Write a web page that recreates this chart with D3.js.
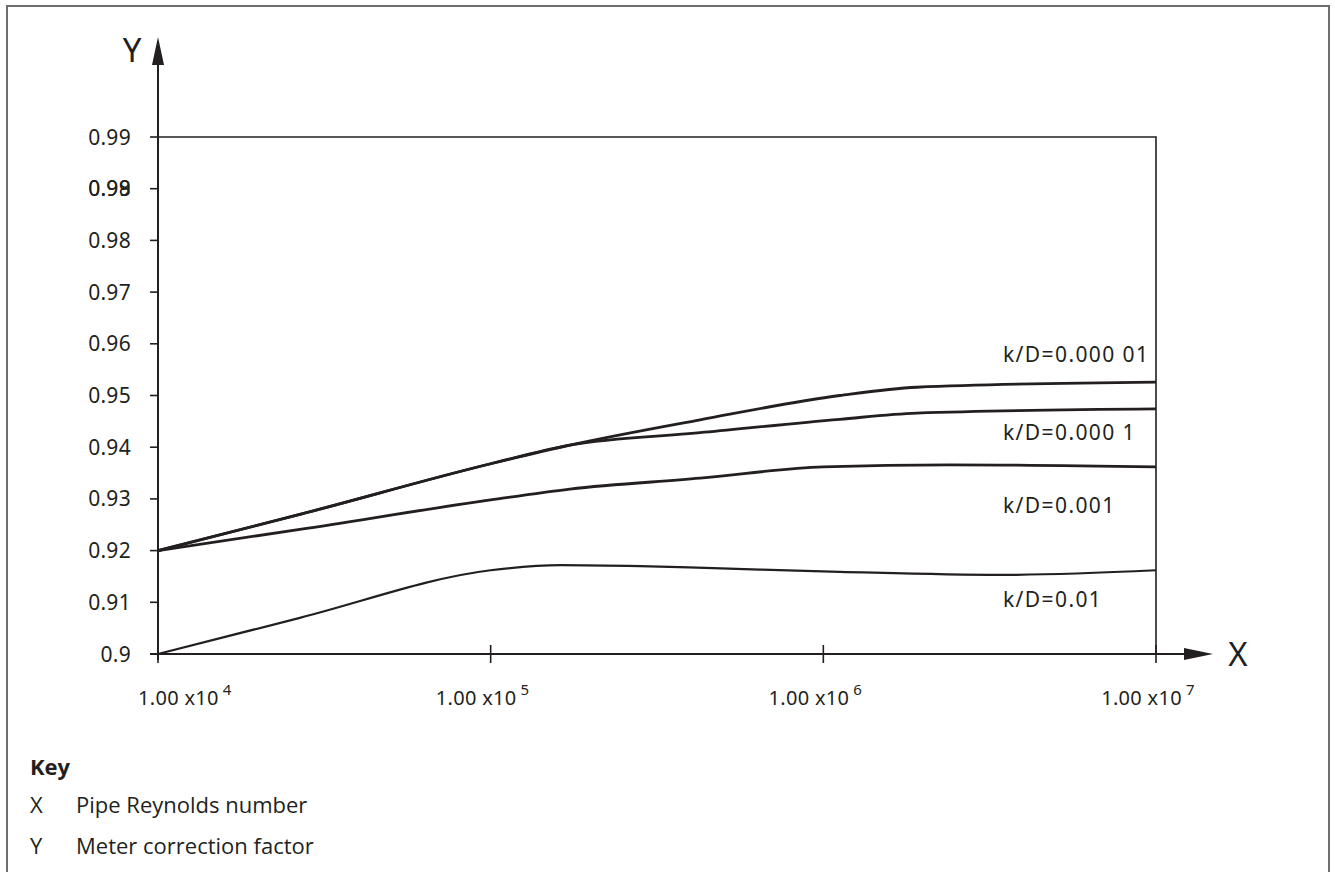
<!DOCTYPE html>
<html>
<head>
<meta charset="utf-8">
<title>Meter correction factor</title>
<script src="https://d3js.org/d3.v7.min.js"></script>
<style>
  body { margin: 0; background: #fff; }
  .axis-text { font-family: "Noto Sans", "DejaVu Sans", sans-serif; fill: #231f20; }
  .key-text { font-family: "Open Sans", "Noto Sans", sans-serif; fill: #231f20; }
</style>
</head>
<body>
<svg id="chart" width="1335" height="872"></svg>
<script>
// ---------------- data ----------------
var xTicks = [1e4, 1e5, 1e6, 1e7];
var xTickExp = ["4", "5", "6", "7"];
var yTicks = [0.90, 0.91, 0.92, 0.93, 0.94, 0.95, 0.96, 0.97, 0.98, 0.99, 1.00];
// labels as printed on the original (one tick carries two overprinted labels)
var yTickLabels = [["0.9"], ["0.91"], ["0.92"], ["0.93"], ["0.94"], ["0.95"], ["0.96"], ["0.97"], ["0.98"], ["0.98", "0.99"], ["0.99"]];

var seriesNames = ["k/D=0.000 01", "k/D=0.000 1", "k/D=0.001", "k/D=0.01"];
var re00001 = [1e4, 2.67e4, 1e5, 1.73e5, 4.26e5, 1.12e6, 1.91e6, 1e7];
var cf00001 = [0.920, 0.927, 0.9368, 0.9404, 0.9453, 0.9500, 0.9516, 0.9526];
var re0001 = [1e4, 2.67e4, 1e5, 1.73e5, 4.26e5, 1.12e6, 1.91e6, 1e7];
var cf0001 = [0.920, 0.927, 0.9368, 0.9404, 0.9428, 0.9454, 0.9466, 0.9474];
var re001 = [1e4, 2.67e4, 1e5, 1.73e5, 4.26e5, 1e6, 2.4e6, 1e7];
var cf001 = [0.920, 0.9241, 0.9298, 0.9319, 0.9340, 0.9362, 0.9366, 0.9362];
var re01 = [1e4, 2.67e4, 1e5, 1.62e5, 2.81e5, 4.66e5, 1.12e6, 3.4e6, 1e7];
var cf01 = [0.900, 0.9070, 0.9162, 0.9172, 0.9170, 0.9166, 0.9159, 0.9153, 0.9162];

var keyLetters = ["X", "Y"];
var keyTexts = ["Pipe Reynolds number", "Meter correction factor"];

// ---------------- layout ----------------
var svg = d3.select("#chart");
var ink = "#231f20";

var x = d3.scaleLog().domain([1e4, 1e7]).range([158, 1156]);
var y = d3.scaleLinear().domain([0.90, 1.00]).range([654, 137]);

// page frame (open at the bottom)
svg.append("path")
  .attr("d", "M7,872V6H1329V872")
  .attr("fill", "none").attr("stroke", "#6d6d6d").attr("stroke-width", 2);

// plot box top and right
svg.append("path")
  .attr("d", "M" + x(1e4) + "," + y(1.00) + "H" + x(1e7) + "V" + y(0.90))
  .attr("fill", "none").attr("stroke", ink).attr("stroke-width", 1.6);

// y axis with arrow
svg.append("line")
  .attr("x1", x(1e4)).attr("x2", x(1e4))
  .attr("y1", y(0.90) + 6).attr("y2", 60)
  .attr("stroke", ink).attr("stroke-width", 2);
svg.append("path")
  .attr("d", "M" + x(1e4) + ",37L" + (x(1e4) - 6) + ",65L" + (x(1e4) + 6) + ",65Z")
  .attr("fill", ink);
svg.append("text").attr("class", "axis-text")
  .attr("x", 132).attr("y", 62).attr("text-anchor", "middle")
  .style("font-size", "33px").text("Y");

// x axis with arrow
svg.append("line")
  .attr("x1", x(1e4) - 8).attr("x2", 1190)
  .attr("y1", y(0.90)).attr("y2", y(0.90))
  .attr("stroke", ink).attr("stroke-width", 2);
svg.append("path")
  .attr("d", "M1213," + y(0.90) + "L1184," + (y(0.90) - 6) + "L1184," + (y(0.90) + 6) + "Z")
  .attr("fill", ink);
svg.append("text").attr("class", "axis-text")
  .attr("x", 1238).attr("y", y(0.90) + 12).attr("text-anchor", "middle")
  .style("font-size", "33px").text("X");

// y ticks
var yt = svg.append("g");
yTicks.forEach(function(v, i) {
  yt.append("line")
    .attr("x1", x(1e4) - 8).attr("x2", x(1e4))
    .attr("y1", y(v)).attr("y2", y(v))
    .attr("stroke", ink).attr("stroke-width", 1.6);
  yTickLabels[i].forEach(function(lbl) {
    yt.append("text").attr("class", "axis-text")
      .attr("x", 131).attr("y", y(v)).attr("dy", "0.36em")
      .attr("text-anchor", "end")
      .style("font-size", "21px").style("letter-spacing", "0.3px").text(lbl);
  });
});

// x ticks
var xt = svg.append("g");
xTicks.forEach(function(v, i) {
  xt.append("line")
    .attr("x1", x(v)).attr("x2", x(v))
    .attr("y1", y(0.90) - 9).attr("y2", y(0.90) + 9)
    .attr("stroke", ink).attr("stroke-width", 1.6);
  var t = xt.append("text").attr("class", "axis-text")
    .attr("y", 705)
    .style("font-size", "20px").style("letter-spacing", "0.3px");
  if (i === 0) t.attr("x", x(v) - 20).attr("text-anchor", "start");
  else t.attr("x", x(v) - 8).attr("text-anchor", "middle");
  t.append("tspan").text("1.00 x10");
  t.append("tspan").attr("dx", 4).attr("dy", -10).style("font-size", "15px").text(xTickExp[i]);
});

// curves
var line = d3.line()
  .x(function(d) { return x(d[0]); })
  .y(function(d) { return y(d[1]); })
  .curve(d3.curveMonotoneX);

var series = [
  { re: re00001, cf: cf00001, w: 2.8, off: -20 },
  { re: re0001, cf: cf0001, w: 2.8, off: 31 },
  { re: re001, cf: cf001, w: 2.8, off: 46 },
  { re: re01, cf: cf01, w: 2.2, off: 37 }
];

series.forEach(function(s, i) {
  var pts = d3.zip(s.re, s.cf);
  svg.append("path")
    .attr("d", line(pts))
    .attr("fill", "none").attr("stroke", ink)
    .attr("stroke-width", s.w).attr("stroke-linejoin", "round");
  var last = pts[pts.length - 1];
  svg.append("text").attr("class", "axis-text")
    .attr("x", x(last[0]) - 153).attr("y", y(last[1]) + s.off)
    .style("font-size", "21px").style("letter-spacing", "1.4px").text(seriesNames[i]);
});

// key
svg.append("text").attr("class", "key-text")
  .attr("x", 30).attr("y", 775)
  .style("font-size", "22px").style("font-weight", "bold").text("Key");
keyLetters.forEach(function(k, i) {
  svg.append("text").attr("class", "key-text")
    .attr("x", 30).attr("y", 813 + i * 41)
    .style("font-size", "22px").text(k);
  svg.append("text").attr("class", "key-text")
    .attr("x", 76).attr("y", 813 + i * 41)
    .style("font-size", "22px").text(keyTexts[i]);
});
</script>
</body>
</html>
